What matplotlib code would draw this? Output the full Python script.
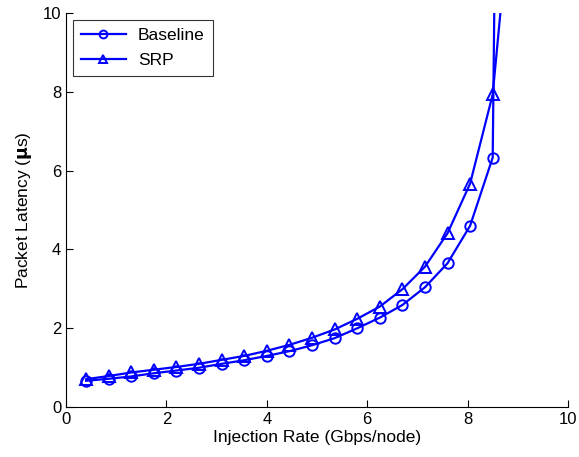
import matplotlib
matplotlib.use("Agg")
import matplotlib.pyplot as plt

plt.rcParams["font.family"] = ["Liberation Sans", "DejaVu Sans"]
plt.rcParams["mathtext.fontset"] = "custom"
plt.rcParams["mathtext.rm"] = "Liberation Sans"
plt.rcParams["mathtext.bf"] = "DejaVu Sans:bold"

# injection rate (Gbps/node); last point lies off the top of the chart
rate = [0.4, 0.85, 1.3, 1.75, 2.2, 2.65, 3.1, 3.55, 4.0, 4.45, 4.9,
        5.35, 5.8, 6.25, 6.7, 7.15, 7.6, 8.05, 8.5, 8.95]
baseline = [0.67, 0.72, 0.78, 0.86, 0.93, 1.0, 1.1, 1.19, 1.3, 1.42, 1.57,
            1.75, 2.0, 2.27, 2.59, 3.04, 3.65, 4.6, 6.33, 60.0]
srp = [0.71, 0.79, 0.88, 0.95, 1.02, 1.1, 1.2, 1.3, 1.43, 1.58, 1.76,
       1.97, 2.24, 2.55, 2.99, 3.56, 4.41, 5.67, 7.93, 14.0]

blue = (0, 0, 1)

fig = plt.figure(figsize=(5.79, 4.57), dpi=100)
ax = fig.add_axes([0.114, 0.109, 0.867, 0.863])

ax.plot(rate, baseline, color=blue, lw=1.6, marker="o", ms=7.5,
        mfc="none", mew=1.4, label="Baseline")
ax.plot(rate, srp, color=blue, lw=1.6, marker="^", ms=8,
        mfc="none", mew=1.4, label="SRP")

ax.set_xlim(0, 10)
ax.set_ylim(0, 10)
ax.set_xticks(range(0, 11, 2))
ax.set_yticks(range(0, 11, 2))
ax.tick_params(direction="in", length=5, labelsize=12, width=0.8)
for side in ["top", "right"]:
    ax.spines[side].set_visible(False)
for side in ["left", "bottom"]:
    ax.spines[side].set_linewidth(0.8)

ax.set_xlabel("Injection Rate (Gbps/node)", fontsize=12.5, labelpad=2)
ax.set_ylabel(r"Packet Latency ($\mathbf{\mu}$s)", fontsize=12.5, labelpad=6)

leg = ax.legend(loc="upper left", fontsize=12.5, frameon=True, fancybox=False,
                edgecolor="black", borderaxespad=0.4, handlelength=2.6,
                labelspacing=0.6, borderpad=0.45, handletextpad=0.7,
                markerscale=0.75)
leg.get_frame().set_linewidth(0.8)

fig.savefig("out.png", dpi=100)
